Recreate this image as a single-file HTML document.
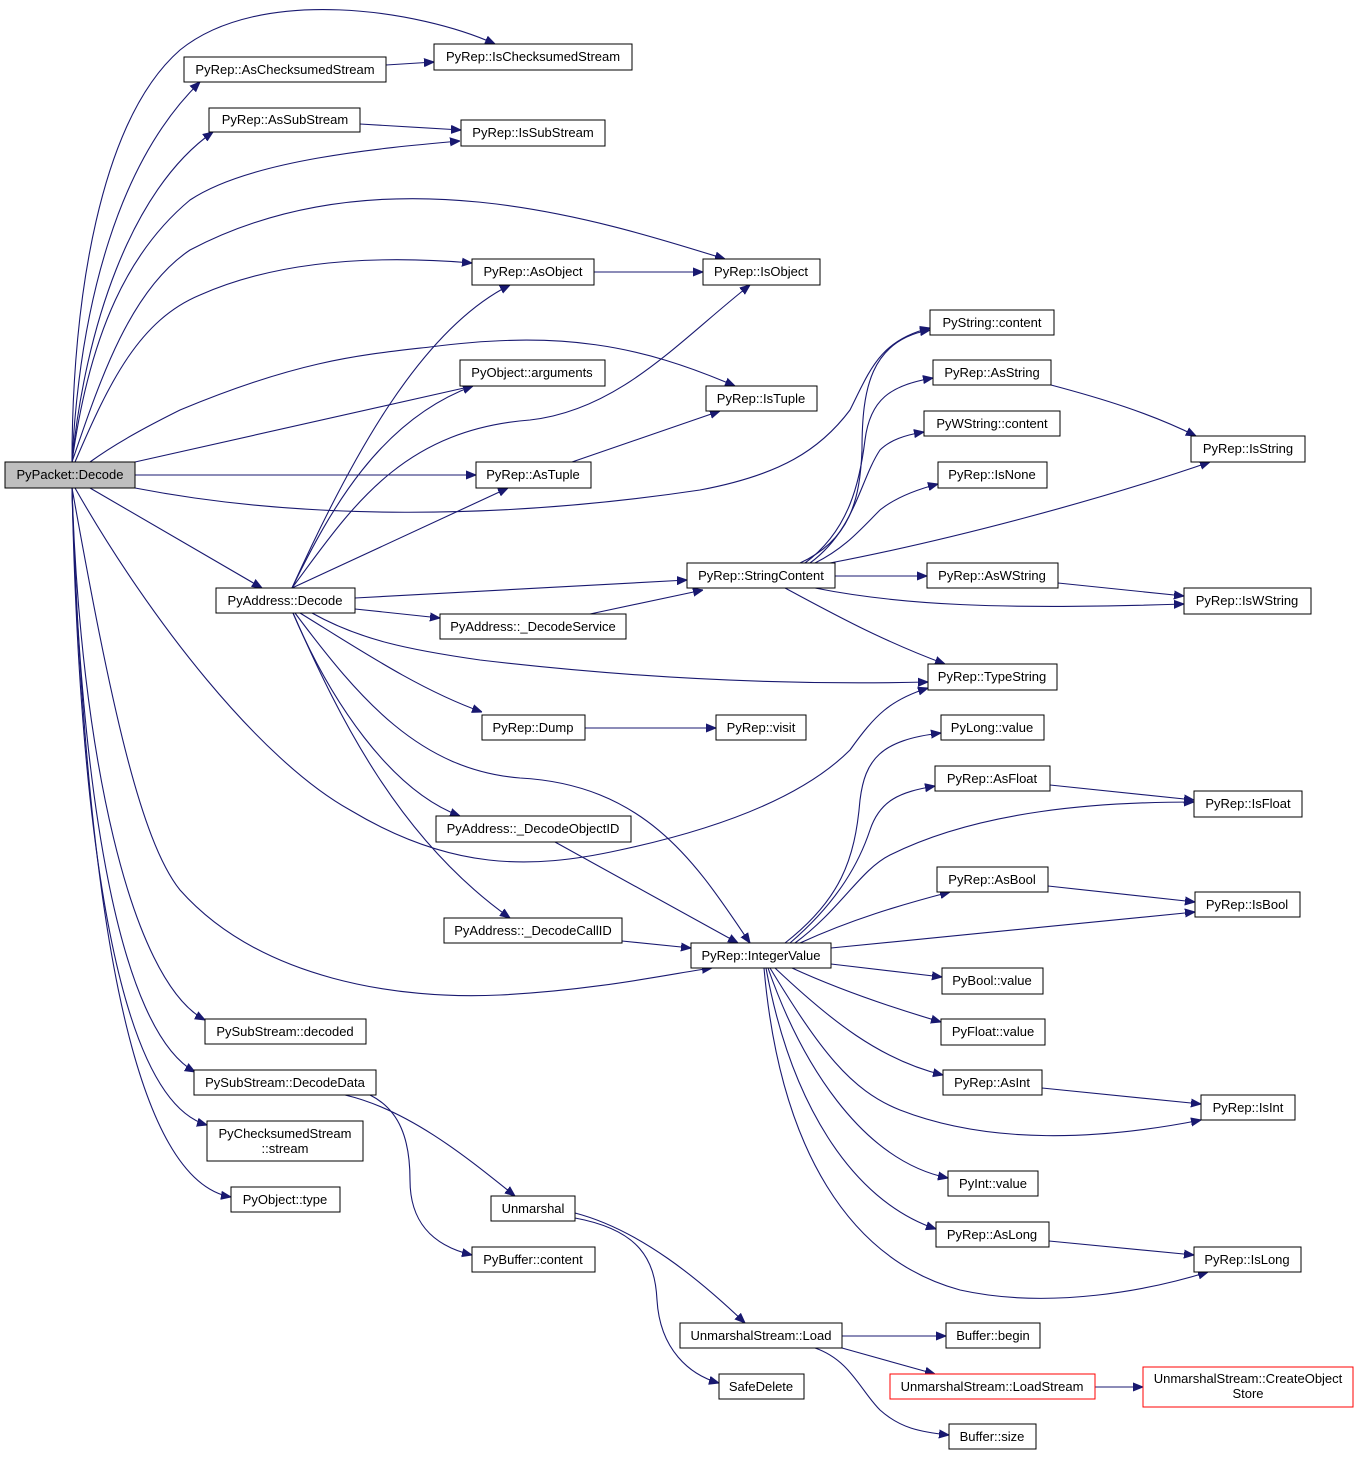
<!DOCTYPE html>
<html><head><meta charset="utf-8"><style>
html,body{margin:0;padding:0;background:#fff;}
svg{display:block;}
text{font-family:"Liberation Sans",Arial,sans-serif;font-size:13px;fill:#000;}
.e{fill:none;stroke:#191970;stroke-width:1.1;}
.n{fill:#fff;stroke:#000;stroke-width:1;}
</style></head><body>
<svg width="1359" height="1457" viewBox="0 0 1359 1457" xmlns="http://www.w3.org/2000/svg">
<defs><marker id="a" viewBox="0 0 10 10" refX="10" refY="5" markerWidth="10" markerHeight="10" markerUnits="userSpaceOnUse" orient="auto"><path d="M0,1 L10,5 L0,9 z" fill="#191970" stroke="#191970"/></marker></defs>
<g class="e" marker-end="url(#a)">
<path d="M72,462 C72,300 100,120 180,50 C260,-15 420,10 495,44"/>
<path d="M72,462 C80,300 120,160 200,82"/>
<path d="M72,462 C85,330 130,190 213,132"/>
<path d="M72,462 C90,330 130,250 190,200 C250,160 380,148 460,141"/>
<path d="M72,462 C100,380 130,290 190,250 C380,150 600,220 725,259"/>
<path d="M75,462 C110,380 140,320 200,295 C290,255 400,257 472,263"/>
<path d="M90,462 C120,440 160,420 180,410 C300,360 360,355 430,347 C560,330 640,345 735,386"/>
<path d="M135,462 L473,386"/>
<path d="M135,475 L476,475"/>
<path d="M135,488 C300,520 500,520 700,490 C780,475 820,450 850,410 C870,370 880,340 930,328"/>
<path d="M90,488 L262,588"/>
<path d="M75,488 C150,620 260,760 350,810 C450,870 530,870 620,850 C760,820 820,780 850,750 C875,715 890,700 928,688"/>
<path d="M72,488 C110,700 140,840 180,890 C260,980 400,1000 500,995 C600,990 680,972 712,968"/>
<path d="M72,488 C80,750 130,980 205,1020"/>
<path d="M72,488 C80,800 120,1030 195,1072"/>
<path d="M72,488 C80,850 120,1100 207,1125"/>
<path d="M72,488 C85,900 130,1180 231,1197"/>
<path d="M292,588 C350,460 420,330 510,285"/>
<path d="M292,588 C330,510 380,420 473,386"/>
<path d="M292,588 C350,510 400,430 530,420 C620,410 680,340 750,285"/>
<path d="M292,588 L508,488"/>
<path d="M355,598 L687,580"/>
<path d="M355,609 L440,618"/>
<path d="M312,613 C360,640 410,650 480,660 C650,680 800,685 928,682"/>
<path d="M300,613 C360,650 420,690 482,712"/>
<path d="M295,613 C360,700 420,770 520,778 C650,785 700,870 750,943"/>
<path d="M293,613 C330,700 390,790 460,816"/>
<path d="M293,613 C340,720 400,840 510,918"/>
<path d="M590,614 L703,590"/>
<path d="M555,842 L738,943"/>
<path d="M622,941 L691,948"/>
<path d="M386,65 L434,62"/>
<path d="M360,124 L461,130"/>
<path d="M594,272 L703,272"/>
<path d="M572,462 L720,411"/>
<path d="M585,728 L716,728"/>
<path d="M800,563 C850,540 860,500 862,450 C862,390 870,340 930,330"/>
<path d="M805,563 C850,530 860,480 865,440 C870,400 890,385 933,378"/>
<path d="M810,563 C855,530 860,480 880,450 C890,440 905,435 924,432"/>
<path d="M815,563 C845,548 860,530 880,510 C895,498 915,490 938,484"/>
<path d="M830,563 C950,540 1100,500 1210,462"/>
<path d="M835,576 L927,576"/>
<path d="M815,588 C900,605 1000,610 1184,604"/>
<path d="M785,588 C830,612 880,640 945,664"/>
<path d="M1051,385 C1100,398 1150,413 1196,436"/>
<path d="M1058,583 L1184,596"/>
<path d="M785,943 C840,900 855,860 860,800 C865,760 880,740 941,733"/>
<path d="M790,943 C840,900 860,860 870,830 C880,800 900,792 935,786"/>
<path d="M795,943 C840,910 860,870 890,855 C980,810 1100,802 1194,802"/>
<path d="M800,943 C850,920 900,905 950,892"/>
<path d="M831,948 L1195,912"/>
<path d="M831,964 L942,977"/>
<path d="M792,968 C840,990 890,1007 941,1022"/>
<path d="M775,968 C830,1020 880,1060 943,1075"/>
<path d="M770,968 C820,1050 850,1090 900,1110 C990,1145 1100,1140 1201,1120"/>
<path d="M768,968 C800,1060 860,1160 948,1178"/>
<path d="M766,968 C790,1100 850,1200 936,1229"/>
<path d="M764,968 C780,1150 850,1260 960,1290 C1050,1310 1150,1290 1208,1272"/>
<path d="M1050,785 L1194,800"/>
<path d="M1048,886 L1195,902"/>
<path d="M1042,1088 L1201,1104"/>
<path d="M1049,1241 L1194,1255"/>
<path d="M345,1095 C410,1110 470,1160 515,1196"/>
<path d="M370,1095 C400,1110 410,1140 410,1180 C410,1220 430,1245 472,1255"/>
<path d="M575,1213 C640,1230 700,1280 745,1323"/>
<path d="M575,1218 C640,1230 655,1260 657,1300 C660,1350 690,1375 719,1383"/>
<path d="M842,1336 L946,1336"/>
<path d="M842,1348 L935,1374"/>
<path d="M815,1348 C850,1360 860,1390 880,1410 C900,1428 920,1432 949,1435"/>
<path d="M1095,1387 L1143,1387"/>
</g>
<g text-anchor="middle">
<rect x="5" y="462" width="130" height="26" fill="#bfbfbf" stroke="#000"/><text x="70" y="479">PyPacket::Decode</text>
<rect class="n" x="184" y="57" width="202" height="25"/><text x="285" y="74">PyRep::AsChecksumedStream</text>
<rect class="n" x="434" y="44" width="198" height="26"/><text x="533" y="61">PyRep::IsChecksumedStream</text>
<rect class="n" x="209" y="108" width="151" height="24"/><text x="285" y="124">PyRep::AsSubStream</text>
<rect class="n" x="461" y="120" width="144" height="26"/><text x="533" y="137">PyRep::IsSubStream</text>
<rect class="n" x="472" y="259" width="122" height="26"/><text x="533" y="276">PyRep::AsObject</text>
<rect class="n" x="703" y="259" width="117" height="26"/><text x="761" y="276">PyRep::IsObject</text>
<rect class="n" x="460" y="360" width="145" height="26"/><text x="532" y="377">PyObject::arguments</text>
<rect class="n" x="706" y="386" width="111" height="25"/><text x="761" y="403">PyRep::IsTuple</text>
<rect class="n" x="476" y="462" width="115" height="26"/><text x="533" y="479">PyRep::AsTuple</text>
<rect class="n" x="930" y="310" width="124" height="25"/><text x="992" y="327">PyString::content</text>
<rect class="n" x="933" y="360" width="118" height="25"/><text x="992" y="377">PyRep::AsString</text>
<rect class="n" x="924" y="411" width="136" height="25"/><text x="992" y="428">PyWString::content</text>
<rect class="n" x="938" y="462" width="109" height="26"/><text x="992" y="479">PyRep::IsNone</text>
<rect class="n" x="1191" y="436" width="114" height="26"/><text x="1248" y="453">PyRep::IsString</text>
<rect class="n" x="687" y="563" width="148" height="25"/><text x="761" y="580">PyRep::StringContent</text>
<rect class="n" x="927" y="563" width="131" height="25"/><text x="992" y="580">PyRep::AsWString</text>
<rect class="n" x="1184" y="588" width="127" height="26"/><text x="1247" y="605">PyRep::IsWString</text>
<rect class="n" x="216" y="588" width="139" height="25"/><text x="285" y="605">PyAddress::Decode</text>
<rect class="n" x="440" y="614" width="186" height="25"/><text x="533" y="631">PyAddress::_DecodeService</text>
<rect class="n" x="928" y="664" width="129" height="26"/><text x="992" y="681">PyRep::TypeString</text>
<rect class="n" x="482" y="715" width="103" height="25"/><text x="533" y="732">PyRep::Dump</text>
<rect class="n" x="716" y="715" width="90" height="25"/><text x="761" y="732">PyRep::visit</text>
<rect class="n" x="941" y="715" width="103" height="25"/><text x="992" y="732">PyLong::value</text>
<rect class="n" x="935" y="766" width="115" height="25"/><text x="992" y="783">PyRep::AsFloat</text>
<rect class="n" x="1194" y="791" width="108" height="26"/><text x="1248" y="808">PyRep::IsFloat</text>
<rect class="n" x="436" y="816" width="195" height="26"/><text x="533" y="833">PyAddress::_DecodeObjectID</text>
<rect class="n" x="937" y="867" width="111" height="25"/><text x="992" y="884">PyRep::AsBool</text>
<rect class="n" x="1195" y="892" width="105" height="25"/><text x="1247" y="909">PyRep::IsBool</text>
<rect class="n" x="444" y="918" width="178" height="25"/><text x="533" y="935">PyAddress::_DecodeCallID</text>
<rect class="n" x="691" y="943" width="140" height="25"/><text x="761" y="960">PyRep::IntegerValue</text>
<rect class="n" x="942" y="968" width="101" height="26"/><text x="992" y="985">PyBool::value</text>
<rect class="n" x="941" y="1019" width="104" height="26"/><text x="993" y="1036">PyFloat::value</text>
<rect class="n" x="943" y="1070" width="99" height="25"/><text x="992" y="1087">PyRep::AsInt</text>
<rect class="n" x="1201" y="1095" width="94" height="25"/><text x="1248" y="1112">PyRep::IsInt</text>
<rect class="n" x="948" y="1171" width="90" height="25"/><text x="993" y="1188">PyInt::value</text>
<rect class="n" x="936" y="1222" width="113" height="25"/><text x="992" y="1239">PyRep::AsLong</text>
<rect class="n" x="1194" y="1247" width="107" height="25"/><text x="1247" y="1264">PyRep::IsLong</text>
<rect class="n" x="205" y="1019" width="161" height="25"/><text x="285" y="1036">PySubStream::decoded</text>
<rect class="n" x="194" y="1070" width="182" height="25"/><text x="285" y="1087">PySubStream::DecodeData</text>
<rect class="n" x="207" y="1121" width="156" height="40"/><text x="285" y="1138">PyChecksumedStream</text><text x="285" y="1153">::stream</text>
<rect class="n" x="231" y="1187" width="109" height="25"/><text x="285" y="1204">PyObject::type</text>
<rect class="n" x="491" y="1196" width="84" height="25"/><text x="533" y="1213">Unmarshal</text>
<rect class="n" x="472" y="1247" width="123" height="25"/><text x="533" y="1264">PyBuffer::content</text>
<rect class="n" x="680" y="1323" width="162" height="25"/><text x="761" y="1340">UnmarshalStream::Load</text>
<rect class="n" x="946" y="1323" width="94" height="25"/><text x="993" y="1340">Buffer::begin</text>
<rect class="n" x="719" y="1374" width="85" height="25"/><text x="761" y="1391">SafeDelete</text>
<rect x="890" y="1374" width="205" height="25" fill="#fff" stroke="#ff0000"/><text x="992" y="1391">UnmarshalStream::LoadStream</text>
<rect x="1143" y="1367" width="210" height="40" fill="#fff" stroke="#ff0000"/><text x="1248" y="1383">UnmarshalStream::CreateObject</text><text x="1248" y="1398">Store</text>
<rect class="n" x="949" y="1424" width="87" height="25"/><text x="992" y="1441">Buffer::size</text>
</g>
</svg>
</body></html>
